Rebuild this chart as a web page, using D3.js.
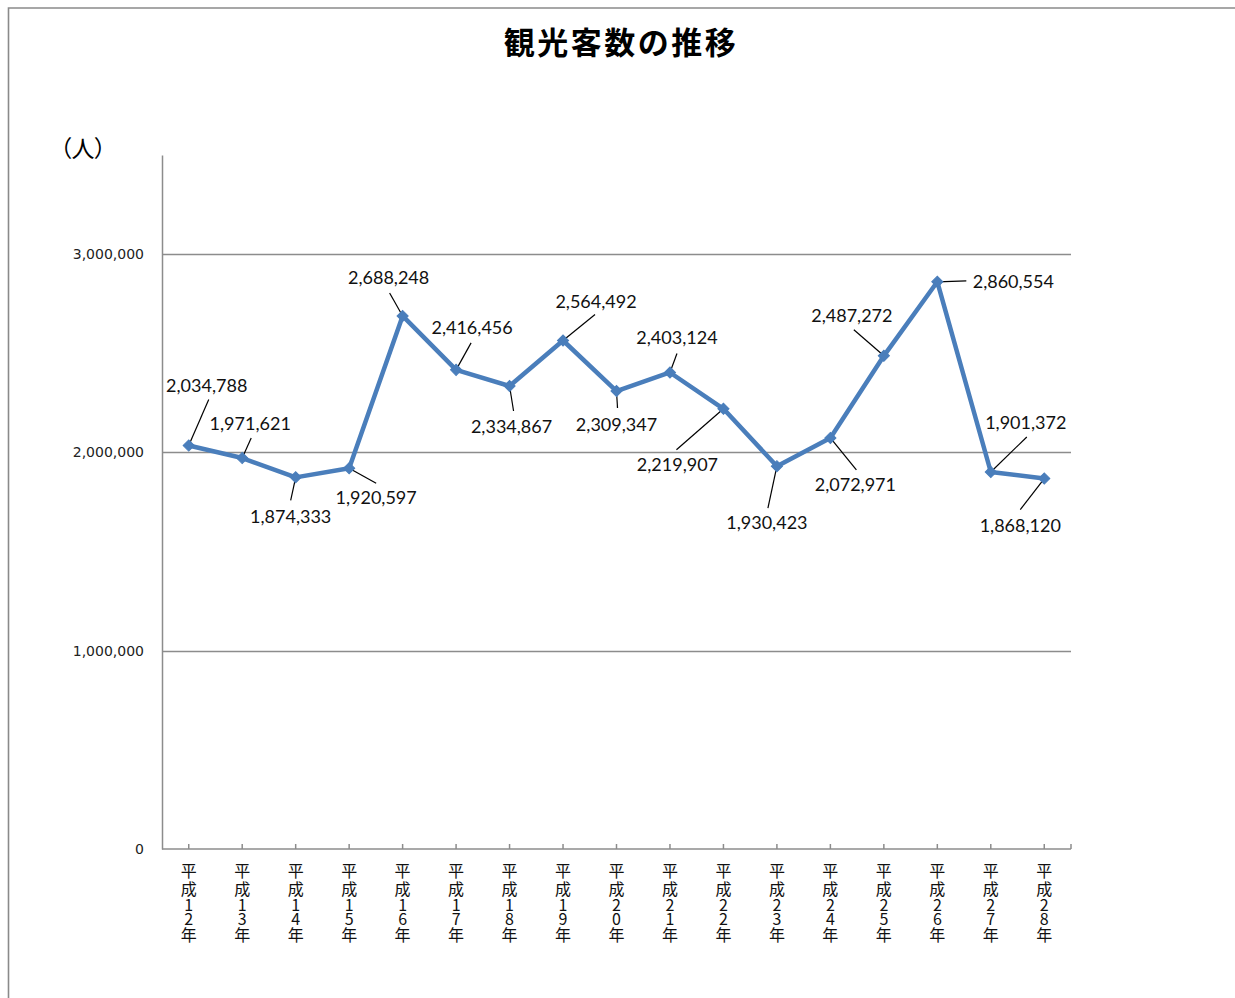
<!DOCTYPE html>
<html>
<head>
<meta charset="utf-8">
<script src="https://cdn.jsdelivr.net/npm/d3@7"></script>
<style>
  body { margin: 0; background: #fff; }
  svg { display: block; }
</style>
</head>
<body>
<svg width="1235" height="998"></svg>
<script>
'use strict';

// data
const years = ['平成12年', '平成13年', '平成14年', '平成15年', '平成16年', '平成17年',
  '平成18年', '平成19年', '平成20年', '平成21年', '平成22年', '平成23年',
  '平成24年', '平成25年', '平成26年', '平成27年', '平成28年']
const visitors = [2034788, 1971621, 1874333, 1920597, 2688248, 2416456,
  2334867, 2564492, 2309347, 2403124, 2219907, 1930423,
  2072971, 2487272, 2860554, 1901372, 1868120]
const yTicks = [0, 1000000, 2000000, 3000000]

// where each data label sits relative to its point: [label dx, label dy, leader dx, leader dy]
const labelPlace = [
  [18, -54, 20, -46], [8, -28, 9, -20], [-5, 46, -5, 23], [27, 36, 27, 15],
  [-14, -32, -13, -23], [16, -36, 15, -27], [2, 47, 4, 25], [33, -32, 32, -26],
  [0, 40, 1, 17], [7, -28, 7, -19], [-46, 62, -47, 41], [-10, 63, -9, 42],
  [25, 53, 26, 32], [-32, -34, -30, -26], [76, 6, 29, -1], [35, -43, 36, -35],
  [-24, 53, -24, 31]
]

const svg = d3.select('svg')
const blue = '#4a7ebb'
const grid = '#8c8c8c'
const plotLeft = 162, plotRight = 1071, plotTop = 155, plotBottom = 849

// frame
svg.append('path')
  .attr('d', 'M8.5,998 L8.5,8 L1235,8')
  .style('fill', 'none')
  .style('stroke', '#8a8a8a')
  .style('stroke-width', 1.6)

svg.append('text')
  .attr('x', 621).attr('y', 54)
  .attr('text-anchor', 'middle')
  .style('font-family', '"Noto Sans CJK JP"')
  .style('font-weight', 'bold')
  .style('font-size', '31px')
  .style('letter-spacing', '2.5px')
  .text('観光客数の推移')

svg.append('text')
  .attr('x', 60).attr('y', 157)
  .style('font-family', '"Noto Sans CJK JP"')
  .style('font-size', '23px')
  .style('font-feature-settings', '"palt"')
  .text('（人）')

const x = d3.scaleBand().domain(years).range([plotLeft, plotRight])
const y = d3.scaleLinear().domain([0, 3500000]).range([plotBottom, plotTop])
const cx = (d, i) => x(years[i]) + x.bandwidth() / 2

// gridlines
svg.append('g').selectAll('line')
  .data(yTicks.filter((t) => t > 0))
  .enter().append('line')
  .attr('x1', plotLeft).attr('x2', plotRight)
  .attr('y1', (d) => Math.round(y(d)) + 0.5)
  .attr('y2', (d) => Math.round(y(d)) + 0.5)
  .style('stroke', grid)
  .style('stroke-width', 1.5)

// y axis
const yAxis = svg.append('g')
  .attr('transform', `translate(${plotLeft},0)`)
  .call(d3.axisLeft(y).tickValues(yTicks).tickSize(0).tickPadding(18)
    .tickFormat(d3.format(',')))
yAxis.select('.domain').style('stroke', grid).style('stroke-width', 1.5)
yAxis.selectAll('text')
  .style('font-family', '"DejaVu Sans"')
  .style('font-size', '14px')
  .style('fill', '#222')

// x axis
svg.append('line')
  .attr('x1', plotLeft).attr('x2', plotRight)
  .attr('y1', plotBottom).attr('y2', plotBottom)
  .style('stroke', grid).style('stroke-width', 1.5)
svg.append('g').selectAll('line')
  .data(years.map((d, i) => cx(d, i)).concat([plotRight]))
  .enter().append('line')
  .attr('x1', (d) => d).attr('x2', (d) => d)
  .attr('y1', plotBottom).attr('y2', plotBottom - 5)
  .style('stroke', grid).style('stroke-width', 1.5)

// stacked vertical category labels
const isKanji = (c) => !/[0-9]/.test(c)
const catLabels = svg.append('g').selectAll('text')
  .data(years)
  .enter().append('text')
  .attr('text-anchor', 'middle')
  .style('font-family', '"Noto Sans CJK JP"')
  .style('font-size', '16px')
  .style('fill', '#111')
catLabels.each(function(d, i) {
  const chars = Array.from(d)
  let cy = 869.5
  chars.forEach((c, k) => {
    if (k > 0) cy += (isKanji(chars[k - 1]) ? 9 : 7) + (isKanji(c) ? 9 : 7)
    d3.select(this).append('tspan')
      .attr('x', cx(d, i))
      .attr('y', cy)
      .attr('dominant-baseline', 'central')
      .text(c)
  })
})

// leader lines
svg.append('g').selectAll('line')
  .data(visitors)
  .enter().append('line')
  .attr('x1', (d, i) => cx(d, i))
  .attr('y1', (d) => y(d))
  .attr('x2', (d, i) => cx(d, i) + labelPlace[i][2])
  .attr('y2', (d, i) => y(d) + labelPlace[i][3])
  .style('stroke', '#000')
  .style('stroke-width', 1.2)

// series line
svg.append('path')
  .datum(visitors)
  .attr('d', d3.line().x((d, i) => cx(d, i)).y((d) => y(d)))
  .style('fill', 'none')
  .style('stroke', blue)
  .style('stroke-width', 4.5)
  .style('stroke-linejoin', 'round')

// diamond markers
svg.append('g').selectAll('path')
  .data(visitors)
  .enter().append('path')
  .attr('d', d3.symbol().type(d3.symbolSquare).size(62))
  .attr('transform', (d, i) => `translate(${cx(d, i)},${y(d)}) rotate(45)`)
  .style('fill', blue)
  .style('stroke', blue)
  .style('stroke-width', 1)

// data labels
svg.append('g').selectAll('text')
  .data(visitors)
  .enter().append('text')
  .attr('x', (d, i) => cx(d, i) + labelPlace[i][0])
  .attr('y', (d, i) => y(d) + labelPlace[i][1])
  .attr('text-anchor', 'middle')
  .style('font-family', 'Lato')
  .style('font-size', '18px')
  .style('fill', '#111')
  .text((d) => d3.format(',')(d))
</script>
</body>
</html>
